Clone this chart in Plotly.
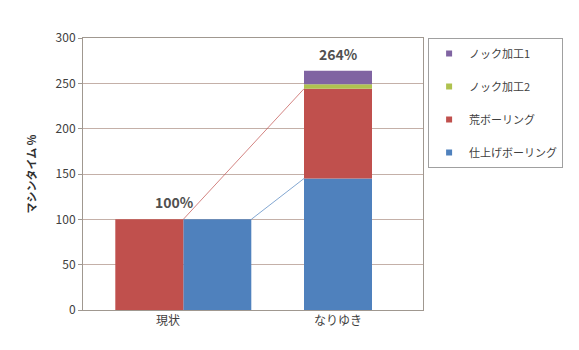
import plotly.graph_objects as go

categories = ["現状", "なりゆき"]
# series values (machine time %)
finish_boring = [100, 145]   # 仕上げボーリング
rough_boring = [100, 99]     # 荒ボーリング
knock2 = [0, 5]              # ノック加工2
knock1 = [0, 15]             # ノック加工1
totals_labels = ["100%", "264%"]
y_ticks = [0, 50, 100, 150, 200, 250, 300]

names = {"k1": "ノック加工1", "k2": "ノック加工2", "rb": "荒ボーリング", "fb": "仕上げボーリング"}
colors = {"k1": "#8064A2", "k2": "#AFC24F", "rb": "#C0504D", "fb": "#4F81BD"}

W = 0.4
# 現状: two bars side by side (red left, blue right); なりゆき: one stacked bar
off_rb = [-0.31, -0.2]
off_fb = [0.09, -0.2]
off_st = [-0.2, -0.2]

base_fb = [0, 0]
base_rb = [0, finish_boring[1]]
base_k2 = [0, finish_boring[1] + rough_boring[1]]
base_k1 = [0, base_k2[1] + knock2[1]]

fig = go.Figure()

def bar(y, base, off, key):
    fig.add_trace(go.Bar(
        x=categories, y=y, base=base, offset=off, width=[W, W],
        marker=dict(color=colors[key], line=dict(width=0)),
        name=names[key], showlegend=False, hoverinfo="skip"))

bar(finish_boring, base_fb, off_fb, "fb")
bar(rough_boring, base_rb, off_rb, "rb")
bar(knock2, base_k2, off_st, "k2")
bar(knock1, base_k1, off_st, "k1")

# legend-only entries with small square markers
for key in ["k1", "k2", "rb", "fb"]:
    fig.add_trace(go.Scatter(
        x=[None], y=[None], mode="markers", name=names[key], legendgroup=key,
        marker=dict(symbol="square", size=6, color=colors[key])))

# connector lines (from data)
red_x0 = 0 + off_rb[0] + W
blue_x0 = 0 + off_fb[0] + W
x1 = 1 + off_st[1]
fig.add_shape(type="line", xref="x", yref="y",
              x0=red_x0, y0=rough_boring[0], x1=x1, y1=base_rb[1] + rough_boring[1],
              line=dict(color="rgba(192,80,77,0.7)", width=1))
fig.add_shape(type="line", xref="x", yref="y",
              x0=blue_x0, y0=finish_boring[0], x1=x1, y1=finish_boring[1],
              line=dict(color="rgba(79,129,189,0.7)", width=1))

# total labels
totals = [max(rough_boring[0], finish_boring[0]), base_k1[1] + knock1[1]]
label_x = [0.04, 1.0]
yshifts = [17, 17]
for i in range(2):
    fig.add_annotation(x=label_x[i], y=totals[i], xref="x", yref="y",
                       text="<b>" + totals_labels[i] + "</b>", showarrow=False, yshift=yshifts[i],
                       font=dict(size=14, color="#505050", family="Noto Sans CJK JP"))

fig.update_layout(
    width=579, height=350,
    margin=dict(l=83, r=156, t=38, b=40, autoexpand=False),
    paper_bgcolor="white", plot_bgcolor="white",
    barmode="overlay",
    font=dict(family="Noto Sans CJK JP", size=12, color="#404040"),
    legend=dict(x=1.015, y=1.0, xanchor="left", yanchor="top",
                bordercolor="#a0a0a0", borderwidth=1, bgcolor="white",
                font=dict(size=11, color="#404040"), tracegroupgap=14,
                itemwidth=30),
    showlegend=True,
)
fig.update_xaxes(type="category", range=[-0.5, 1.5], showgrid=False,
                 showline=True, linecolor="#a09890", mirror=True,
                 ticks="", tickfont=dict(size=12, color="#404040"))
fig.update_yaxes(range=[0, 300], tickvals=y_ticks, showgrid=True,
                 gridcolor="#c4b0a8", gridwidth=1,
                 showline=True, linecolor="#a09890", mirror=True,
                 ticks="outside", ticklen=4, tickcolor="#a09890",
                 tickfont=dict(size=12, color="#404040"),
                 title=dict(text="<b>マシンタイム %</b>", font=dict(size=11, color="#303030"),
                            standoff=16),
                 zeroline=False)

fig.write_html("out.html")
